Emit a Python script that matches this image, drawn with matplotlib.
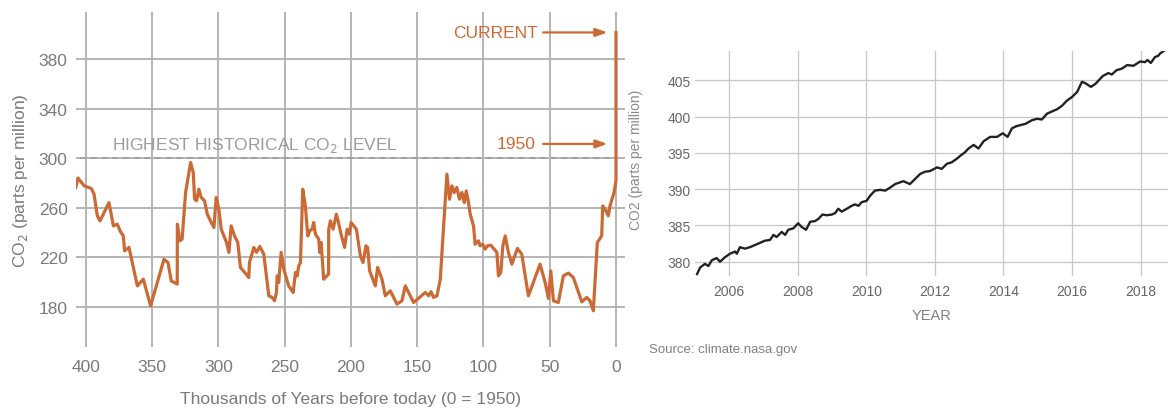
import matplotlib
matplotlib.use("Agg")
import matplotlib.pyplot as plt
import numpy as np

# ---------------- data ----------------
# Left panel: ice-core CO2, thousands of years before 1950
kyr = [407.7, 406.0, 401.4, 395.9, 393.9, 391.4, 389.4, 382.6, 379.3, 376.3,
       374.3, 371.8, 370.8, 367.5, 361.2, 356.7, 351.2, 346.1, 341.1, 338.1,
       335.6, 331.1, 331.0, 329.1, 327.4, 324.8, 321.0, 319.0, 318.0, 316.5,
       314.8, 313.0, 310.5, 308.4, 306.0, 303.4, 301.7, 299.7, 297.9, 293.9,
       292.1, 290.4, 287.9, 285.4, 283.4, 277.1, 276.6, 273.3, 271.3, 268.8,
       265.8, 262.0, 259.5, 257.7, 256.2, 255.7, 254.5, 252.7, 250.7, 247.0,
       243.6, 241.9, 240.6, 239.4, 238.1, 236.4, 234.4, 232.6, 231.1, 229.4,
       228.1, 226.8, 224.3, 223.6, 222.5, 220.6, 216.9, 216.8, 215.5, 213.5,
       211.0, 209.7, 207.5, 204.8, 202.9, 201.2, 199.9, 195.9, 192.9, 190.9,
       188.7, 187.4, 185.9, 181.6, 179.9, 176.6, 174.1, 170.3, 165.3, 161.5,
       159.0, 152.7, 143.9, 141.4, 139.6, 137.7, 135.1, 132.6, 127.6, 125.6,
       123.8, 122.1, 120.1, 118.1, 116.3, 114.5, 113.0, 111.3, 110.0, 107.5,
       106.3, 103.8, 102.5, 100.5, 98.7, 97.0, 94.4, 91.9, 89.9, 88.7,
       86.9, 85.4, 83.6, 81.2, 78.6, 74.4, 71.1, 66.1, 57.3, 53.5,
       51.0, 49.2, 47.2, 43.5, 39.7, 35.9, 32.2, 25.8, 22.1, 19.6,
       17.1, 14.1, 10.8, 10.0, 7.5, 5.8, 4.5, 1.5, 0.0, 0.0]
co2_ice = [276.4, 284.0, 277.7, 275.5, 271.0, 253.5, 249.4, 264.2, 245.4, 246.8,
           241.4, 237.3, 225.2, 228.0, 197.0, 202.4, 180.9, 199.8, 218.5, 215.8,
           201.0, 198.4, 246.8, 233.3, 234.7, 272.3, 296.5, 288.4, 267.0, 265.6,
           275.0, 268.3, 265.6, 254.8, 249.4, 244.1, 268.3, 258.9, 242.7, 232.0,
           224.0, 245.4, 237.3, 232.0, 211.9, 203.8, 215.9, 228.0, 224.0, 228.8,
           222.6, 189.0, 187.7, 185.0, 191.7, 205.0, 199.8, 224.0, 210.5, 197.0,
           191.7, 207.8, 205.0, 213.1, 215.8, 275.0, 261.5, 237.3, 241.4, 242.7,
           248.1, 238.7, 234.7, 224.0, 232.0, 202.4, 206.5, 242.7, 249.4, 242.7,
           254.8, 249.4, 238.7, 228.0, 242.7, 238.7, 248.1, 242.7, 221.2, 215.8,
           229.3, 228.0, 209.1, 197.0, 211.9, 202.4, 189.0, 193.0, 182.3, 185.0,
           197.0, 183.6, 191.7, 189.0, 192.3, 187.7, 189.0, 202.4, 287.1, 266.9,
           277.7, 272.3, 276.4, 266.9, 272.3, 264.2, 273.6, 264.2, 254.8, 245.4,
           230.6, 233.3, 229.3, 230.6, 226.6, 229.3, 229.8, 226.6, 224.0, 205.1,
           207.8, 229.3, 237.3, 224.0, 214.5, 227.2, 222.6, 189.0, 214.5, 199.8,
           186.9, 209.1, 184.9, 183.6, 205.1, 207.3, 203.8, 184.1, 187.7, 185.0,
           176.9, 232.0, 237.3, 261.5, 257.5, 253.5, 261.5, 272.3, 281.7, 401.4]

# Right panel: monthly Mauna Loa CO2
years = [2005.06, 2005.15, 2005.29, 2005.39, 2005.49, 2005.63, 2005.73, 2005.87,
         2006.02, 2006.17, 2006.22, 2006.31, 2006.46, 2006.60, 2006.80, 2007.04,
         2007.19, 2007.29, 2007.38, 2007.53, 2007.63, 2007.72, 2007.87, 2008.01,
         2008.11, 2008.24, 2008.36, 2008.50, 2008.60, 2008.72, 2008.84, 2008.99,
         2009.09, 2009.18, 2009.28, 2009.43, 2009.57, 2009.67, 2009.77, 2009.86,
         2010.01, 2010.11, 2010.25, 2010.40, 2010.55, 2010.69, 2010.84, 2011.08,
         2011.27, 2011.42, 2011.57, 2011.71, 2011.86, 2012.06, 2012.20, 2012.35,
         2012.49, 2012.64, 2012.74, 2012.88, 2012.98, 2013.13, 2013.27, 2013.42,
         2013.61, 2013.81, 2013.98, 2014.12, 2014.25, 2014.39, 2014.64, 2014.83,
         2014.98, 2015.12, 2015.27, 2015.41, 2015.56, 2015.71, 2015.85, 2016.00,
         2016.15, 2016.29, 2016.39, 2016.55, 2016.68, 2016.82, 2016.90, 2017.06,
         2017.16, 2017.30, 2017.45, 2017.61, 2017.79, 2017.99, 2018.13, 2018.20,
         2018.30, 2018.42, 2018.52, 2018.57, 2018.69]
co2_monthly = [378.3, 379.2, 379.7, 379.4, 380.2, 380.5, 380.0, 380.6,
               381.1, 381.4, 381.1, 382.0, 381.8, 382.0, 382.4, 382.9,
               383.0, 383.7, 383.4, 384.1, 383.7, 384.4, 384.6, 385.3,
               384.8, 384.4, 385.5, 385.6, 385.9, 386.5, 386.4, 386.5,
               386.7, 387.3, 386.9, 387.3, 387.7, 387.9, 387.7, 388.2,
               388.4, 389.1, 389.8, 389.9, 389.8, 390.2, 390.7, 391.1,
               390.7, 391.4, 392.1, 392.4, 392.5, 393.0, 392.8, 393.5,
               393.7, 394.2, 394.6, 395.1, 395.6, 396.1, 395.6, 396.6,
               397.2, 397.2, 397.7, 397.2, 398.4, 398.7, 399.0, 399.5,
               399.7, 399.6, 400.4, 400.7, 401.0, 401.5, 402.2, 402.7,
               403.4, 404.8, 404.6, 404.1, 404.5, 405.2, 405.6, 406.0,
               405.8, 406.4, 406.6, 407.1, 407.0, 407.6, 407.5, 407.8,
               407.4, 408.2, 408.4, 408.7, 409.1]

left_xticks = [400, 350, 300, 250, 200, 150, 100, 50, 0]
left_yticks = [180, 220, 260, 300, 340, 380]
right_xticks = [2006, 2008, 2010, 2012, 2014, 2016, 2018]
right_yticks = [380, 385, 390, 395, 400, 405]
highest_level = 300
co2_1950 = 311.5
co2_current = 401.4

# ---------------- style ----------------
ORANGE = "#cc6a36"
GRID_L = "#b4b4b4"
TXT_L = "#7a7a7a"
NARROW = ["Liberation Sans Narrow", "Liberation Sans", "DejaVu Sans"]
plt.rcParams["font.family"] = ["Liberation Sans", "DejaVu Sans"]

fig = plt.figure(figsize=(11.68, 4.10), dpi=100)

# ---------------- left panel ----------------
axL = fig.add_axes([76 / 1168, 62 / 410, 549 / 1168, 335 / 410])
axL.set_xlim(407.5, -6.8)
axL.set_ylim(147.7, 417.9)
for s in axL.spines.values():
    s.set_visible(False)
axL.set_xticks(left_xticks)
axL.set_yticks(left_yticks)
axL.tick_params(length=0, labelsize=12.5, labelcolor=TXT_L, pad=6)
axL.tick_params(axis="x", pad=9)
axL.grid(True, color=GRID_L, lw=1.4)
axL.set_axisbelow(True)

axL.axhline(highest_level, xmin=0.008, xmax=0.982, color="#9a9a9a", lw=1.1,
            ls=(0, (4, 3)), zorder=1)
axL.plot(kyr, co2_ice, color=ORANGE, lw=2.3, zorder=3, solid_joinstyle="round")

axL.text(380, 303, "HIGHEST HISTORICAL CO$_2$ LEVEL", color="#9c9c9c",
         fontsize=12.5, ha="left", va="bottom")
axL.text(59, co2_current, "CURRENT", color=ORANGE, fontsize=12.5,
         ha="right", va="center")
axL.annotate("", xy=(6.5, co2_current), xytext=(55, co2_current),
             arrowprops=dict(arrowstyle="-|>,head_length=0.7,head_width=0.25",
                             color=ORANGE, lw=1.6, shrinkA=0, shrinkB=0))
axL.text(61, co2_1950, "1950", color=ORANGE, fontsize=12.5, ha="right",
         va="center")
axL.annotate("", xy=(6.5, co2_1950), xytext=(55, co2_1950),
             arrowprops=dict(arrowstyle="-|>,head_length=0.7,head_width=0.25",
                             color=ORANGE, lw=1.6, shrinkA=0, shrinkB=0))

axL.set_xlabel("Thousands of Years before today (0 = 1950)", fontsize=12.5,
               color=TXT_L, labelpad=12)
axL.set_ylabel("CO$_2$ (parts per million)", fontsize=12.5, color=TXT_L,
               labelpad=6)

# ---------------- right panel ----------------
axR = fig.add_axes([695 / 1168, 133 / 410, 473 / 1168, 225 / 410])
axR.set_xlim(2005.0, 2018.8)
axR.set_ylim(378.03, 409.04)
for s in axR.spines.values():
    s.set_visible(False)
axR.set_xticks(right_xticks)
axR.set_yticks(right_yticks)
axR.tick_params(length=0, labelcolor="#666666")
axR.tick_params(axis="y", pad=3)
axR.tick_params(axis="x", pad=6)
for lab in axR.get_xticklabels() + axR.get_yticklabels():
    lab.set_fontfamily(NARROW)
    lab.set_fontsize(10)
axR.grid(True, color="#c6c6c6", lw=0.9)
axR.set_axisbelow(True)
axR.plot(years, co2_monthly, color="#222222", lw=1.7, zorder=3,
         solid_joinstyle="round")

axR.set_xlabel("YEAR", fontsize=10.5, color="#808080", family=NARROW,
               labelpad=7)
fig.text(636 / 1168, 1 - 160 / 410, "CO2 (parts per million)", rotation=90,
         ha="center", va="center", fontsize=10, color="#8a8a8a")
fig.text(649 / 1168, 1 - 350 / 410, "Source: climate.nasa.gov", ha="left",
         va="center", fontsize=9.5, color="#808080", family=NARROW)

fig.savefig("out.png", dpi=100)
